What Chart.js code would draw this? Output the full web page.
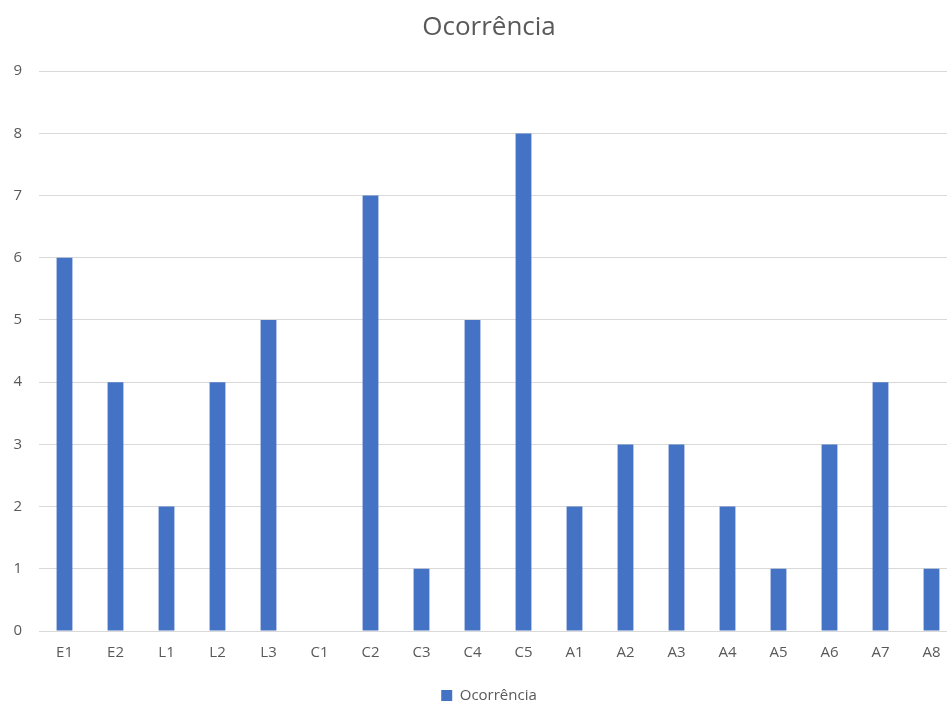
<!DOCTYPE html>
<html>
<head>
<meta charset="utf-8">
<script src="https://cdn.jsdelivr.net/npm/chart.js@4/dist/chart.umd.min.js"></script>
<style>
  html,body{margin:0;padding:0;background:#fff;overflow:hidden;}
  #wrap{width:978px;height:705px;position:relative;}
</style>
</head>
<body>
<div id="wrap"><canvas id="chart"></canvas></div>
<script>
/* -------------------- Data -------------------- */
const categories = ['E1','E2','L1','L2','L3','C1','C2','C3','C4','C5','A1','A2','A3','A4','A5','A6','A7','A8'];
const ocorrencia = [6,4,2,4,5,0,7,1,5,8,2,3,3,2,1,3,4,1];
const yTicks = [0,1,2,3,4,5,6,7,8,9];

const textGray = '#595959';
const fontFam = '"Open Sans", "Noto Sans", sans-serif';

new Chart(document.getElementById('chart'), {
  type:'bar',
  data:{
    labels:categories,
    datasets:[{label:'Ocorrência', data:ocorrencia, backgroundColor:'#4472C4', borderWidth:0,
      barPercentage:0.31, categoryPercentage:1}]
  },
  options:{
    responsive:true, maintainAspectRatio:false, animation:false,
    layout:{padding:{top:0,left:0,right:0,bottom:-8}},
    plugins:{
      title:{display:true, text:'Ocorrência', color:textGray,
        font:{family:fontFam, size:26, weight:'normal'}, padding:{top:12,bottom:28}},
      legend:{position:'bottom', labels:{color:textGray, boxWidth:11, boxHeight:11,
        font:{family:fontFam, size:15}, padding:3}},
      tooltip:{enabled:false}
    },
    scales:{
      x:{
        afterFit:s=>{ s.height = 54; },
        grid:{display:false, drawTicks:false},
        border:{color:'#D9D9D9'},
        ticks:{color:textGray, font:{family:fontFam, size:15}, padding:13}
      },
      y:{
        min:0, max:9,
        afterFit:s=>{ s.width = 39; },
        afterBuildTicks:s=>{ s.ticks = yTicks.map(v=>({value:v})); },
        grid:{color:'#D9D9D9', drawTicks:false},
        border:{display:false},
        ticks:{color:textGray, font:{family:fontFam, size:15}, padding:17}
      },
      yRight:{
        position:'right', min:0, max:9,
        afterFit:s=>{ s.width = 21; },
        grid:{display:false, drawTicks:false},
        border:{display:false},
        ticks:{display:false}
      }
    }
  }
});
</script>
</body>
</html>
